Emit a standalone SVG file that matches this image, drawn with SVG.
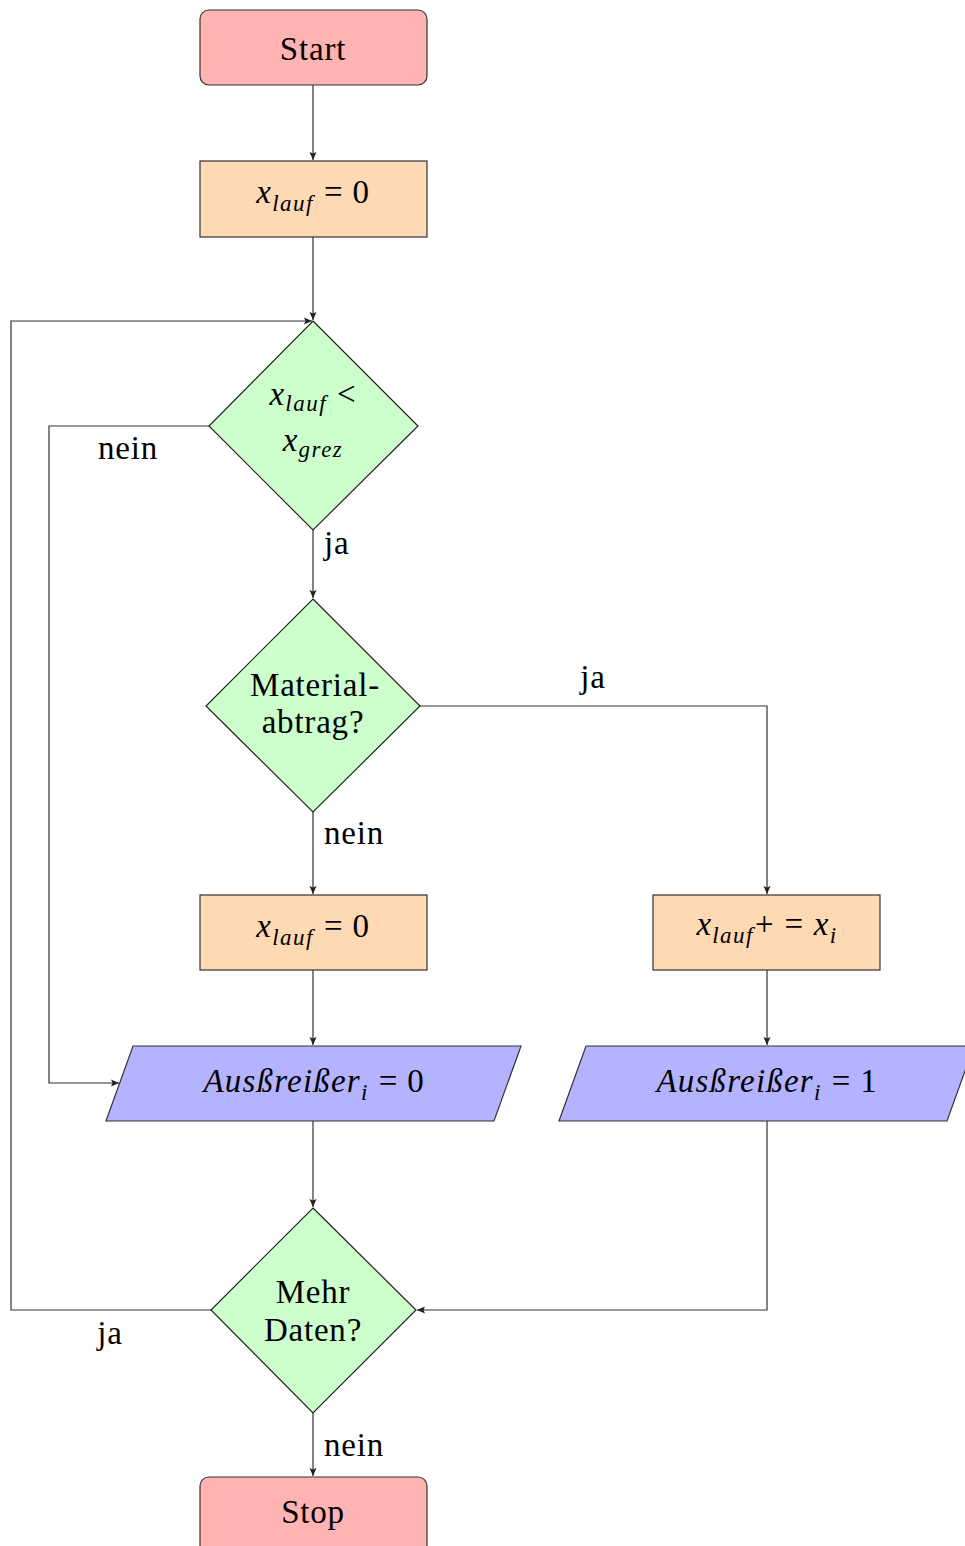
<svg xmlns="http://www.w3.org/2000/svg" width="965" height="1546" viewBox="0 0 965 1546">
<style>
.t{font-family:"Liberation Serif","DejaVu Serif",serif;font-size:33px;fill:#000;text-anchor:middle;letter-spacing:0.8px}
.l{font-family:"Liberation Serif","DejaVu Serif",serif;font-size:33px;fill:#000;letter-spacing:0.8px}
.it{font-style:italic;letter-spacing:1.2px}
.sub{font-style:italic;font-size:23px;letter-spacing:1.5px}
.term{fill:#FFB3B3;stroke:#333;stroke-width:1.2}
.proc{fill:#FFD9B3;stroke:#333;stroke-width:1.2}
.dec{fill:#CCFFCC;stroke:#222;stroke-width:1.2}
.io{fill:#B3B3FF;stroke:#333;stroke-width:1.2}
.c{fill:none;stroke:#333;stroke-width:1.2;marker-end:url(#ah)}
</style>
<defs>
<marker id="ah" markerUnits="userSpaceOnUse" markerWidth="10" markerHeight="10" refX="8" refY="4" orient="auto">
<path d="M0,0.5 L8,4 L0,7.5 L1.5,4 Z" fill="#222"/>
</marker>
</defs>
<g id="connectors">
<path class="c" d="M313,85 V160"/>
<path class="c" d="M313,237 V320"/>
<path class="c" d="M313,530 V598"/>
<path class="c" d="M209,426 H49 V1083 H119"/>
<path class="c" d="M420,706 H767 V894"/>
<path class="c" d="M313,812 V894"/>
<path class="c" d="M313,970 V1045"/>
<path class="c" d="M767,970 V1045"/>
<path class="c" d="M313,1121 V1207"/>
<path class="c" d="M767,1121 V1310 H417"/>
<path class="c" d="M211,1310 H11 V321 H312"/>
<path class="c" d="M313,1413 V1476"/>
</g>
<g id="labels">
<text class="t" x="128" y="459">nein</text>
<text class="l" x="324" y="554">ja</text>
<text class="t" x="593" y="688">ja</text>
<text class="l" x="324" y="844">nein</text>
<text class="t" x="110" y="1344">ja</text>
<text class="l" x="324" y="1456">nein</text>
</g>
<g id="start">
<rect class="term" x="200" y="10" width="227" height="75" rx="9"/>
<text class="t" x="313" y="60">Start</text>
</g>
<g id="init">
<rect class="proc" x="200" y="161" width="227" height="76"/>
<text class="t" x="313" y="203"><tspan class="it">x</tspan><tspan class="sub" dy="8">lauf</tspan><tspan dy="-8" dx="10">= 0</tspan></text>
</g>
<g id="cond1">
<polygon class="dec" points="313,321 418,426 313,530 209,426"/>
<text class="t" x="313" y="405"><tspan class="it">x</tspan><tspan class="sub" dy="6">lauf</tspan><tspan dy="-6" dx="10">&lt;</tspan></text>
<text class="t" x="313" y="451"><tspan class="it">x</tspan><tspan class="sub" dy="6">grez</tspan></text>
</g>
<g id="cond2">
<polygon class="dec" points="313,599 420,706 313,812 206,706"/>
<text class="t" x="315" y="696">Material-</text>
<text class="t" x="313" y="733">abtrag?</text>
</g>
<g id="reset">
<rect class="proc" x="200" y="895" width="227" height="75"/>
<text class="t" x="313" y="937"><tspan class="it">x</tspan><tspan class="sub" dy="8">lauf</tspan><tspan dy="-8" dx="10">= 0</tspan></text>
</g>
<g id="accum">
<rect class="proc" x="653" y="895" width="227" height="75"/>
<text class="t" x="767" y="935"><tspan class="it">x</tspan><tspan class="sub" dy="8">lauf</tspan><tspan dy="-8" dx="1">+</tspan><tspan dx="10">=</tspan><tspan class="it" dx="10">x</tspan><tspan class="sub" dy="8">i</tspan></text>
</g>
<g id="out0">
<polygon class="io" points="133,1046 521,1046 494,1121 106,1121"/>
<text class="t" x="314" y="1092"><tspan class="it">Ausßreißer</tspan><tspan class="sub" dy="8">i</tspan><tspan dy="-8" dx="10">= 0</tspan></text>
</g>
<g id="out1">
<polygon class="io" points="586,1046 974,1046 947,1121 559,1121"/>
<text class="t" x="767" y="1092"><tspan class="it">Ausßreißer</tspan><tspan class="sub" dy="8">i</tspan><tspan dy="-8" dx="10">= 1</tspan></text>
</g>
<g id="cond3">
<polygon class="dec" points="313,1208 416,1310 313,1413 211,1310"/>
<text class="t" x="313" y="1303">Mehr</text>
<text class="t" x="313" y="1341">Daten?</text>
</g>
<g id="stop">
<rect class="term" x="200" y="1477" width="227" height="80" rx="9"/>
<text class="t" x="313" y="1523">Stop</text>
</g>
</svg>
